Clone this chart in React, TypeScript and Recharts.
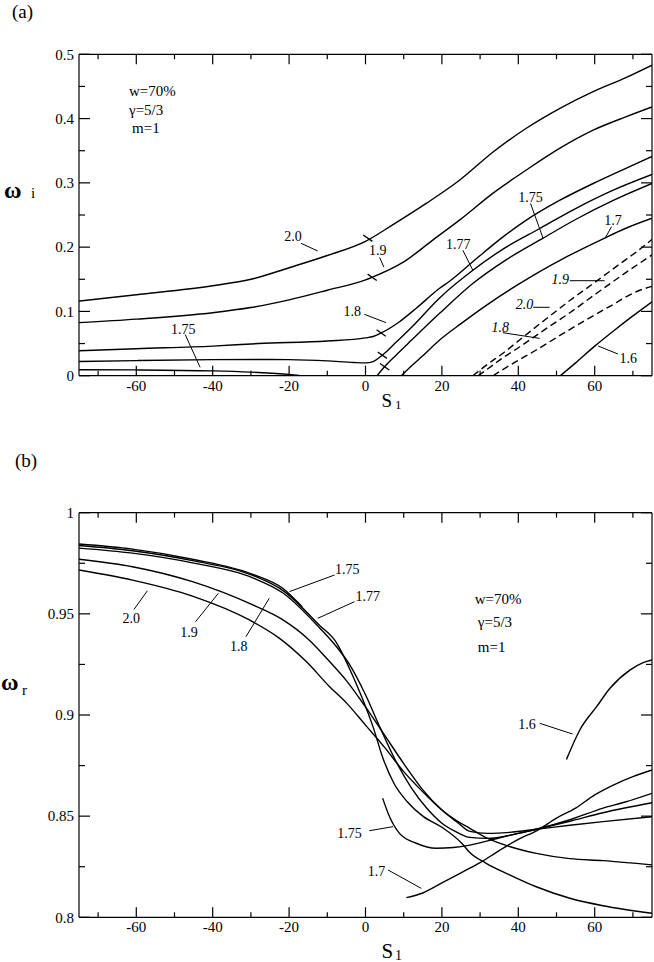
import React from 'react';
import { LineChart, Line, XAxis, YAxis, ReferenceLine, ReferenceDot } from 'recharts';

const FONT = "'Liberation Serif', 'Times New Roman', serif";

// ---------- axis ticks ----------
const X_TICKS = [-70, -60, -50, -40, -30, -20, -10, 0, 10, 20, 30, 40, 50, 60, 70];
const X_MAJOR = [-60, -40, -20, 0, 20, 40, 60];
const YA_TICKS = [0, 0.05, 0.1, 0.15, 0.2, 0.25, 0.3, 0.35, 0.4, 0.45, 0.5];
const YA_MAJOR = [0, 0.1, 0.2, 0.3, 0.4, 0.5];
const YB_TICKS = [0.8, 0.825, 0.85, 0.875, 0.9, 0.925, 0.95, 0.975, 1];
const YB_MAJOR = [0.8, 0.85, 0.9, 0.95, 1];

// ---------- panel (a): growth rate omega_i vs S1 ----------
const A20_S = [-75, -60, -40, -30, -20, -10, 0, 7.2, 15.9, 24.6, 33.4, 42.1, 50.9, 59.6, 68.3, 75];
const A20_V = [0.116, 0.126, 0.14, 0.15, 0.168, 0.187, 0.209, 0.235, 0.268, 0.304, 0.348, 0.385, 0.416, 0.442, 0.464, 0.483];

const A19_S = [-75, -60, -40, -30, -20, -10, 0, 1.7, 10, 17.6, 24.6, 33.4, 42.1, 50.9, 59.6, 68.3, 75];
const A19_V = [0.0825, 0.088, 0.098, 0.106, 0.118, 0.133, 0.149, 0.153, 0.177, 0.211, 0.242, 0.284, 0.32, 0.354, 0.382, 0.403, 0.418];

const A18_S = [-75, -60, -40, -28, -10, 0, 2, 4.1, 8.9, 13.3, 19.4, 22, 29, 36, 42.1, 50.9, 59.6, 68.3, 75];
const A18_V = [0.0387, 0.042, 0.046, 0.05, 0.054, 0.0588, 0.061, 0.0665, 0.084, 0.105, 0.136, 0.147, 0.182, 0.216, 0.242, 0.273, 0.299, 0.323, 0.341];

const A177_S = [-75, -60, -40, -28, -20, -10, -3, 0, 2, 4.4, 8, 12, 19.4, 28.1, 36, 45.6, 55, 65, 75];
const A177_V = [0.0222, 0.0235, 0.025, 0.0253, 0.025, 0.023, 0.0205, 0.02, 0.022, 0.032, 0.052, 0.075, 0.121, 0.164, 0.197, 0.229, 0.26, 0.289, 0.313];

const A175L_S = [-75, -60, -40, -30, -20, -17];
const A175L_V = [0.0093, 0.009, 0.0075, 0.0055, 0.002, 0];
const A175R_S = [3, 5, 8, 12, 19.4, 28, 37, 46.5, 55, 65, 75];
const A175R_V = [0, 0.014, 0.032, 0.055, 0.097, 0.143, 0.181, 0.214, 0.243, 0.273, 0.299];

const A17_S = [9.4, 12, 15, 19.4, 25, 32, 40, 45.6, 52, 62.2, 68, 75];
const A17_V = [0, 0.015, 0.031, 0.0555, 0.081, 0.111, 0.142, 0.162, 0.183, 0.213, 0.229, 0.245];

const A16_S = [51, 55, 60, 65, 70, 75];
const A16_V = [0, 0.02, 0.046, 0.07, 0.093, 0.115];

// dashed branches
const AD19_S = [28.1, 32, 36, 40.4, 47, 53.5, 60, 66.6, 71, 75];
const AD19_V = [0, 0.018, 0.035, 0.056, 0.087, 0.117, 0.145, 0.174, 0.193, 0.212];
const AD20_S = [29.5, 33, 36, 40.4, 47, 53.5, 60, 66.6, 75];
const AD20_V = [0, 0.015, 0.028, 0.045, 0.072, 0.098, 0.126, 0.154, 0.188];
const AD18_S = [33.4, 38, 44.7, 51, 57.8, 64, 71, 75];
const AD18_V = [0, 0.017, 0.04, 0.063, 0.087, 0.108, 0.131, 0.139];

// ---------- panel (b): real frequency omega_r vs S1 ----------
const B20_S = [-75, -61, -45.3, -30.4, -22.5, -15.5, -9.4, -5, 0, 5, 10, 15, 20, 24, 27.3, 32, 37.7, 44.7, 53.5, 62.2, 75];
const B20_V = [0.9717, 0.9667, 0.9588, 0.947, 0.9379, 0.9264, 0.914, 0.906, 0.895, 0.884, 0.872, 0.862, 0.853, 0.8475, 0.844, 0.839, 0.835, 0.8316, 0.829, 0.828, 0.8259];

const B19_S = [-75, -61, -45.3, -29.5, -21.6, -14.7, -9.4, -5, 0, 5, 10, 15, 20, 24, 27.3, 32, 37.7, 44.7, 53.5, 62.2, 75];
const B19_V = [0.977, 0.9733, 0.9659, 0.9544, 0.947, 0.937, 0.9264, 0.917, 0.904, 0.89, 0.876, 0.863, 0.853, 0.847, 0.8425, 0.8415, 0.842, 0.8435, 0.8455, 0.8473, 0.8497];

const B18_S = [-75, -61, -45.3, -29.5, -21.6, -12, -7.7, -4.2, 0, 4, 8, 12, 16, 20, 24, 27.3, 32, 37.7, 44.7, 53.5, 62.2, 75];
const B18_V = [0.9825, 0.98, 0.9752, 0.9678, 0.9603, 0.943, 0.934, 0.925, 0.91, 0.893, 0.877, 0.864, 0.854, 0.8465, 0.842, 0.8395, 0.839, 0.8405, 0.8435, 0.8475, 0.8517, 0.8566];

const B177_S = [-75, -61, -45.3, -29.5, -21.6, -12, -7.7, -4.2, -1, 2, 4.5, 7.5, 11, 15, 20, 25.5, 27.3, 31.6, 37.7, 44.7, 53.5, 62.2, 75];
const B177_V = [0.9838, 0.9812, 0.9763, 0.969, 0.9615, 0.9443, 0.936, 0.923, 0.909, 0.894, 0.879, 0.866, 0.857, 0.85, 0.8445, 0.836, 0.832, 0.8267, 0.821, 0.8151, 0.8094, 0.8057, 0.802];

const B175L_S = [-75, -61, -45.3, -29.5, -21.6, -16.6];
const B175L_V = [0.9845, 0.982, 0.977, 0.9695, 0.9625, 0.9535];
const B175R_S = [4.5, 6.3, 8.9, 13.3, 18.5, 23, 27.3, 32, 37.7, 44.7, 53.5, 62.2, 68, 75];
const B175R_V = [0.8588, 0.8497, 0.8415, 0.8366, 0.8341, 0.8345, 0.8357, 0.8378, 0.8405, 0.8435, 0.8482, 0.854, 0.857, 0.8613];

const B17_S = [10.7, 15, 20, 25, 30, 35, 40, 45, 50, 55, 60, 65, 70, 75];
const B17_V = [0.8097, 0.812, 0.817, 0.822, 0.827, 0.833, 0.8385, 0.843, 0.849, 0.854, 0.8605, 0.8655, 0.8695, 0.8728];

const B16_S = [52.6, 56.1, 60.5, 64, 69.2, 72.7, 75];
const B16_V = [0.878, 0.8926, 0.9041, 0.9132, 0.9222, 0.9259, 0.9272];

const zip = (s: number[], v: number[]) => s.map((x, i) => ({ s: x, v: v[i] }));
const near = (arr: number[], v: number) => arr.some((m) => Math.abs(m - v) < 1e-9);

type Side = 'bottom' | 'top' | 'left' | 'right';
const makeTick = (side: Side, majors: number[], withLabel: boolean, majLen: number, minLen: number) => (props: any) => {
  const { x, y, payload } = props;
  const v = payload.value;
  const major = near(majors, v);
  const len = major ? majLen : minLen;
  let x2 = x;
  let y2 = y;
  if (side === 'bottom') y2 = y - len;
  if (side === 'top') y2 = y + len;
  if (side === 'left') x2 = x + len;
  if (side === 'right') x2 = x - len;
  return (
    <g>
      <line x1={x} y1={y} x2={x2} y2={y2} stroke="#000" strokeWidth={1.2} />
      {withLabel && major && side === 'bottom' && (
        <text x={x} y={y + 15} textAnchor="middle" fontFamily={FONT} fontSize={15} fill="#000">
          {String(v)}
        </text>
      )}
      {withLabel && major && side === 'left' && (
        <text x={x - 5} y={y} dy="0.35em" textAnchor="end" fontFamily={FONT} fontSize={15} fill="#000">
          {String(v)}
        </text>
      )}
    </g>
  );
};

const note = (
  key: string,
  x: number,
  y: number,
  text: string,
  opts: { anchor?: 'start' | 'middle' | 'end'; size?: number; italic?: boolean } = {}
) => (
  <ReferenceDot
    key={key}
    x={x}
    y={y}
    r={0}
    ifOverflow="visible"
    shape={(p: any) => (
      <text
        x={p.cx}
        y={p.cy}
        dy="0.35em"
        textAnchor={opts.anchor ?? 'middle'}
        fontFamily={FONT}
        fontStyle={opts.italic ? 'italic' : 'normal'}
        fontSize={opts.size ?? 14}
        fill="#000"
      >
        {text}
      </text>
    )}
  />
);

const seg = (key: string, x1: number, y1: number, x2: number, y2: number, w = 1) => (
  <ReferenceLine
    key={key}
    segment={[
      { x: x1, y: y1 },
      { x: x2, y: y2 },
    ]}
    stroke="#000"
    strokeWidth={w}
    ifOverflow="visible"
  />
);

const curve = (key: string, s: number[], v: number[], dashed = false) => (
  <Line
    key={key}
    data={zip(s, v)}
    dataKey="v"
    type="monotone"
    stroke="#000"
    strokeWidth={1.4}
    strokeDasharray={dashed ? '7 4' : undefined}
    dot={false}
    activeDot={false}
    isAnimationActive={false}
  />
);

const axes = (yTicks: number[], yMajors: number[], yDomain: [number, number]) => [
  <XAxis key="xb" xAxisId={0} dataKey="s" type="number" domain={[-75, 75]} allowDataOverflow ticks={X_TICKS} interval={0} height={30} tickSize={0} tickMargin={0} tickLine={false} axisLine={{ stroke: '#000', strokeWidth: 1.2 }} tick={makeTick('bottom', X_MAJOR, true, 10, 5)} />,
  <XAxis key="xt" xAxisId="top" orientation="top" dataKey="s" type="number" domain={[-75, 75]} allowDataOverflow ticks={X_TICKS} interval={0} height={1} tickSize={0} tickMargin={0} tickLine={false} axisLine={{ stroke: '#000', strokeWidth: 1.2 }} tick={makeTick('top', X_MAJOR, false, 10, 5)} />,
  <YAxis key="yl" yAxisId={0} type="number" domain={yDomain} allowDataOverflow ticks={yTicks} interval={0} width={79} tickSize={0} tickMargin={0} tickLine={false} axisLine={{ stroke: '#000', strokeWidth: 1.2 }} tick={makeTick('left', yMajors, true, 11, 6)} />,
  <YAxis key="yr" yAxisId="right" orientation="right" type="number" domain={yDomain} allowDataOverflow ticks={yTicks} interval={0} width={1} tickSize={0} tickMargin={0} tickLine={false} axisLine={{ stroke: '#000', strokeWidth: 1.2 }} tick={makeTick('right', yMajors, false, 11, 6)} />,
];

const PanelA = () => (
  <LineChart width={654} height={420} margin={{ top: 53.3, right: 1, bottom: 14.3, left: 0 }}>
    {axes(YA_TICKS, YA_MAJOR, [0, 0.5])}
    {curve('a20', A20_S, A20_V)}
    {curve('a19', A19_S, A19_V)}
    {curve('a18', A18_S, A18_V)}
    {curve('a177', A177_S, A177_V)}
    {curve('a175l', A175L_S, A175L_V)}
    {curve('a175r', A175R_S, A175R_V)}
    {curve('a17', A17_S, A17_V)}
    {curve('a16', A16_S, A16_V)}
    {curve('ad19', AD19_S, AD19_V, true)}
    {curve('ad20', AD20_S, AD20_V, true)}
    {curve('ad18', AD18_S, AD18_V, true)}
    {seg('m1', -0.6, 0.219, 1.8, 0.209, 1.3)}
    {seg('m2', 0.55, 0.158, 2.95, 0.148, 1.3)}
    {seg('m3', 2.9, 0.0715, 5.3, 0.0615, 1.3)}
    {seg('m4', 3.2, 0.037, 5.6, 0.027, 1.3)}
    {seg('m5', 3.8, 0.019, 6.2, 0.009, 1.3)}
    {seg('l1', -16.9, 0.206, -12.5, 0.194)}
    {seg('l2', 3.7, 0.184, 4.8, 0.169)}
    {seg('l3', -0.3, 0.0955, 5.4, 0.0825)}
    {seg('l4', -47.2, 0.064, -43.3, 0.013)}
    {seg('l5', 25.5, 0.195, 28.1, 0.164)}
    {seg('l6', 43.2, 0.268, 46.5, 0.2137)}
    {seg('l7', 64.4, 0.2317, 62.7, 0.2137)}
    {seg('l8', 53.5, 0.1478, 62.6, 0.1478)}
    {seg('l9', 43.9, 0.1064, 48.2, 0.1064)}
    {seg('l10', 36, 0.0669, 45.6, 0.058)}
    {seg('l11', 60.9, 0.0462, 66.1, 0.0337)}
    {note('t1', -19.0, 0.2172, '2.0')}
    {note('t2', 3.2, 0.1947, '1.9')}
    {note('t3', -3.5, 0.1002, '1.8')}
    {note('t4', -47.7, 0.0718, '1.75')}
    {note('t5', 24.3, 0.2044, '1.77')}
    {note('t6', 43.2, 0.2784, '1.75')}
    {note('t7', 64.8, 0.2414, '1.7')}
    {note('t8', 51.0, 0.1496, '1.9', { italic: true })}
    {note('t9', 41.6, 0.1112, '2.0', { italic: true })}
    {note('t10', 35.3, 0.0755, '1.8', { italic: true })}
    {note('t11', 68.8, 0.027, '1.6')}
    {note('n1', -61.9, 0.444, 'w=70%', { anchor: 'start', size: 15 })}
    {note('n2', -61.9, 0.413, 'γ=5/3', { anchor: 'start', size: 15 })}
    {note('n3', -61.1, 0.385, 'm=1', { anchor: 'start', size: 15 })}
  </LineChart>
);

const PanelB = () => (
  <LineChart width={654} height={522} margin={{ top: 71.7, right: 1, bottom: 14.7, left: 0 }}>
    {axes(YB_TICKS, YB_MAJOR, [0.8, 1])}
    {curve('b20', B20_S, B20_V)}
    {curve('b19', B19_S, B19_V)}
    {curve('b18', B18_S, B18_V)}
    {curve('b177', B177_S, B177_V)}
    {curve('b175l', B175L_S, B175L_V)}
    {curve('b175r', B175R_S, B175R_V)}
    {curve('b17', B17_S, B17_V)}
    {curve('b16', B16_S, B16_V)}
    {seg('k1', -60.6, 0.9522, -57.1, 0.9614)}
    {seg('k2', -44.5, 0.9461, -38.5, 0.9602)}
    {seg('k3', -31.3, 0.9387, -25.2, 0.9577)}
    {seg('k4', -19.9, 0.961, -8.1, 0.9692)}
    {seg('k5', -2.9, 0.956, -12.5, 0.9478)}
    {seg('k6', 1, 0.8428, 7.2, 0.8448)}
    {seg('k7', 5.9, 0.8234, 14.6, 0.8143)}
    {seg('k8', 45.6, 0.8959, 54.2, 0.8906)}
    {note('u1', -61.3, 0.9478, '2.0')}
    {note('u2', -46.2, 0.9409, '1.9')}
    {note('u3', -33.2, 0.934, '1.8')}
    {note('u4', -4.8, 0.9722, '1.75')}
    {note('u5', 0.6, 0.9587, '1.77')}
    {note('u6', -4.2, 0.8418, '1.75')}
    {note('u7', 2.9, 0.8227, '1.7')}
    {note('u8', 42.3, 0.8955, '1.6')}
    {note('p1', 28.6, 0.9577, 'w=70%', { anchor: 'start', size: 15 })}
    {note('p2', 29.4, 0.9461, 'γ=5/3', { anchor: 'start', size: 15 })}
    {note('p3', 29.4, 0.9338, 'm=1', { anchor: 'start', size: 15 })}
  </LineChart>
);

export default function App() {
  return (
    <div style={{ position: 'absolute', left: 0, top: 0, width: 654, height: 962, background: '#fff' }}>
      <div style={{ position: 'absolute', left: 0, top: 0 }}>
        <PanelA />
      </div>
      <div style={{ position: 'absolute', left: 0, top: 440 }}>
        <PanelB />
      </div>
      <svg width={654} height={962} style={{ position: 'absolute', left: 0, top: 0, pointerEvents: 'none' }} fill="#000" fontFamily={FONT}>
        <text x={12} y={18} fontSize={19}>(a)</text>
        <text x={15} y={467} fontSize={19}>(b)</text>
        <text x={4} y={198} fontSize={24} fontWeight="bold">ω</text>
        <text x={31} y={198} fontSize={15}>i</text>
        <text x={1} y={690} fontSize={24} fontWeight="bold">ω</text>
        <text x={22} y={695} fontSize={15}>r</text>
        <text x={381.5} y={406.5} fontSize={19}>S</text>
        <text x={395} y={409} fontSize={13}>1</text>
        <text x={381.5} y={957.5} fontSize={21}>S</text>
        <text x={395} y={960} fontSize={14}>1</text>
      </svg>
    </div>
  );
}
